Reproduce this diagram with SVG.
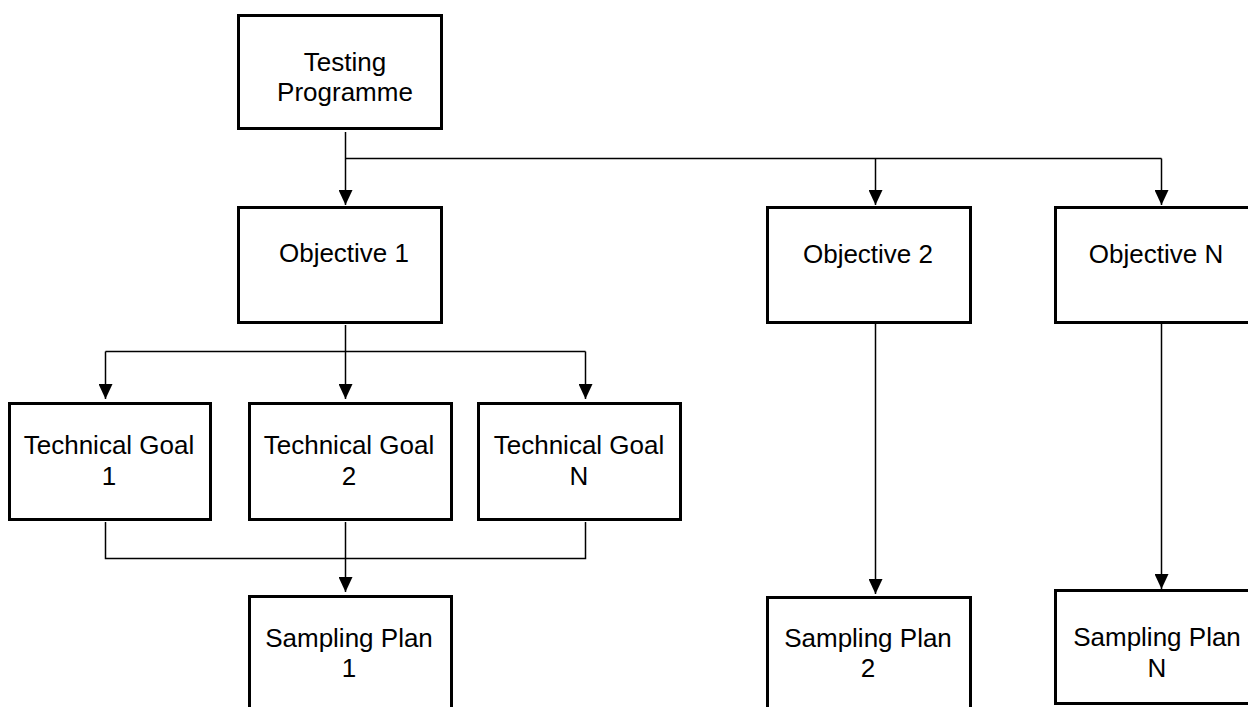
<svg xmlns="http://www.w3.org/2000/svg" width="1248" height="707" viewBox="0 0 1248 707">
  <style>
    .box { fill: #ffffff; stroke: #000000; stroke-width: 3; }
    .lbl { font-family: "Liberation Sans", Arial, sans-serif; font-size: 26px; fill: #000000; text-anchor: middle; }
    .conn { fill: none; stroke: #000000; stroke-width: 1.5; }
    .arr { marker-end: url(#arrow); }
  </style>
  <defs>
    <marker id="arrow" markerUnits="userSpaceOnUse" markerWidth="15" markerHeight="14" refX="15" refY="7" orient="auto">
      <path d="M0,0 L15,7 L0,14 z" fill="#000000"/>
    </marker>
  </defs>
  <rect x="0" y="0" width="1248" height="707" fill="#ffffff"/>

  <g id="connectors">
    <!-- Testing Programme to objectives -->
    <path class="conn arr" d="M345.5,132 L345.5,205"/>
    <path class="conn" d="M345.5,158.5 L1161.5,158.5"/>
    <path class="conn arr" d="M875.5,158.5 L875.5,205"/>
    <path class="conn arr" d="M1161.5,158.5 L1161.5,205"/>
    <!-- Objective 1 to technical goals -->
    <path class="conn arr" d="M345.5,325 L345.5,399"/>
    <path class="conn" d="M105.5,351.5 L585.5,351.5"/>
    <path class="conn arr" d="M105.5,351.5 L105.5,399"/>
    <path class="conn arr" d="M585.5,351.5 L585.5,399"/>
    <!-- Technical goals to Sampling Plan 1 -->
    <path class="conn" d="M105.5,522 L105.5,558.5 L585.5,558.5 L585.5,522"/>
    <path class="conn arr" d="M345.5,522 L345.5,592"/>
    <!-- Objective 2 / N to sampling plans -->
    <path class="conn arr" d="M875.5,324 L875.5,594"/>
    <path class="conn arr" d="M1161.5,324 L1161.5,589"/>
  </g>

  <g id="testing-programme">
    <rect class="box" x="238.5" y="15.5" width="203" height="113"/>
    <text class="lbl" x="345" y="71">Testing</text>
    <text class="lbl" x="345" y="101">Programme</text>
  </g>

  <g id="objective-1">
    <rect class="box" x="238.5" y="207.5" width="203" height="115"/>
    <text class="lbl" x="344" y="262">Objective 1</text>
  </g>

  <g id="objective-2">
    <rect class="box" x="767.5" y="207.5" width="203" height="115"/>
    <text class="lbl" x="868" y="263">Objective 2</text>
  </g>

  <g id="objective-n">
    <rect class="box" x="1055.5" y="207.5" width="204" height="115"/>
    <text class="lbl" x="1156" y="263">Objective N</text>
  </g>

  <g id="technical-goal-1">
    <rect class="box" x="9.5" y="403.5" width="201" height="116"/>
    <text class="lbl" x="109" y="454">Technical Goal</text>
    <text class="lbl" x="109" y="485">1</text>
  </g>

  <g id="technical-goal-2">
    <rect class="box" x="249.5" y="403.5" width="202" height="116"/>
    <text class="lbl" x="349" y="454">Technical Goal</text>
    <text class="lbl" x="349" y="485">2</text>
  </g>

  <g id="technical-goal-n">
    <rect class="box" x="478.5" y="403.5" width="202" height="116"/>
    <text class="lbl" x="579" y="454">Technical Goal</text>
    <text class="lbl" x="579" y="485">N</text>
  </g>

  <g id="sampling-plan-1">
    <rect class="box" x="249.5" y="596.5" width="202" height="130"/>
    <text class="lbl" x="349" y="647">Sampling Plan</text>
    <text class="lbl" x="349" y="677">1</text>
  </g>

  <g id="sampling-plan-2">
    <rect class="box" x="767.5" y="597.5" width="203" height="130"/>
    <text class="lbl" x="868" y="647">Sampling Plan</text>
    <text class="lbl" x="868" y="677">2</text>
  </g>

  <g id="sampling-plan-n">
    <rect class="box" x="1055.5" y="590.5" width="204" height="113"/>
    <text class="lbl" x="1157" y="646">Sampling Plan</text>
    <text class="lbl" x="1157" y="677">N</text>
  </g>
</svg>
